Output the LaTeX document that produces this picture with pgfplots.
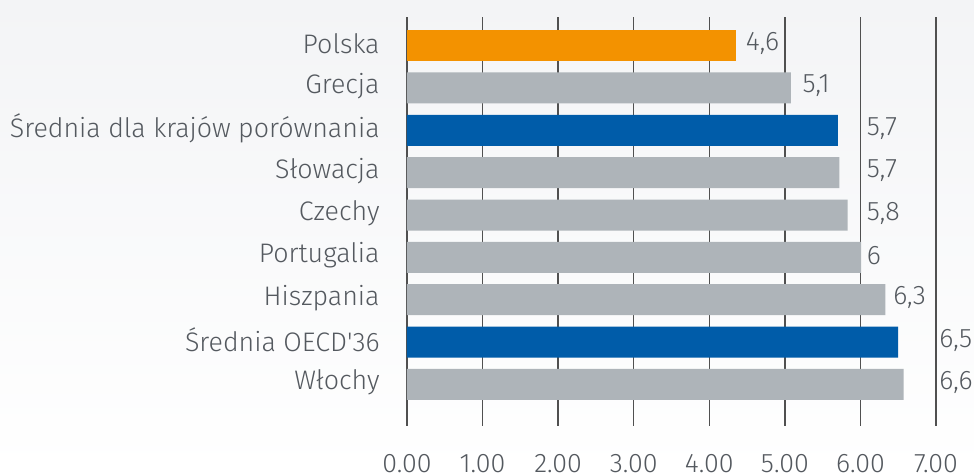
\documentclass[border=0pt]{standalone}
\usepackage{pgfplots}
\pgfplotsset{compat=1.18}
\usepackage{fontspec}
\setmainfont{Fira Sans Light}[Ligatures=TeXOff]
\definecolor{barorange}{RGB}{243,146,0}
\definecolor{bargray}{RGB}{174,180,185}
\definecolor{barblue}{RGB}{0,92,169}
\definecolor{txt}{RGB}{84,89,95}
\definecolor{gridc}{RGB}{80,80,80}
\definecolor{bgtop}{RGB}{243,244,246}
\begin{document}
\begin{tikzpicture}
\fill[top color=bgtop,bottom color=white] (-203.5pt,-23pt) rectangle (283.5pt,213pt);
\begin{axis}[
  scale only axis,
  width=264.5pt, height=204.5pt,
  xmin=0, xmax=7,
  ymin=-0.673, ymax=8.98,
  y dir=reverse,
  clip=false,
  axis line style={draw=none},
  xmajorgrids,
  grid style={gridc, line width=0.75pt},
  xtick={0,1,...,7},
  ytick={0,1,...,8},
  yticklabels={Polska,Grecja,Średnia dla krajów porównania,Słowacja,Czechy,Portugalia,Hiszpania,Średnia OECD'36,Włochy},
  major tick length=0pt,
  tick style={draw=none},
  font=\fontsize{13.4}{15}\selectfont,
  tick label style={txt},
  xticklabel style={anchor=north, inner sep=0pt, yshift=-14pt},
  yticklabel style={anchor=east, inner sep=0pt, xshift=-13.5pt, yshift=1pt},
  /pgf/number format/.cd, fixed, fixed zerofill, precision=2, assume math mode=true,
]
\addplot[xbar, bar width=15.5pt, bar shift=0pt, fill=barorange, draw=none] coordinates {(4.36,0)};
\addplot[xbar, bar width=15.5pt, bar shift=0pt, fill=bargray, draw=none] coordinates {(5.08,1) (5.72,3) (5.83,4) (6.01,5) (6.33,6) (6.57,8)};
\addplot[xbar, bar width=15.5pt, bar shift=0pt, fill=barblue, draw=none] coordinates {(5.70,2) (6.50,7)};
\addplot[draw=none, mark=none, nodes near coords, point meta=explicit symbolic,
  every node near coord/.append style={anchor=west, inner sep=0pt, text=txt, yshift=1pt, font=\fontsize{13.4}{15}\selectfont}]
  table[x=x, y=y, meta=label] {
x y label
4.48 0 4,6
5.23 1 5,1
6.08 2 5,7
6.08 3 5,7
6.08 4 5,8
6.08 5 6
6.43 6 6,3
7.04 7 6,5
7.04 8 6,6
};
\end{axis}
\pgfresetboundingbox
\path[use as bounding box] (-203.5pt,-23pt) rectangle (283.5pt,213pt);
\end{tikzpicture}
\end{document}
